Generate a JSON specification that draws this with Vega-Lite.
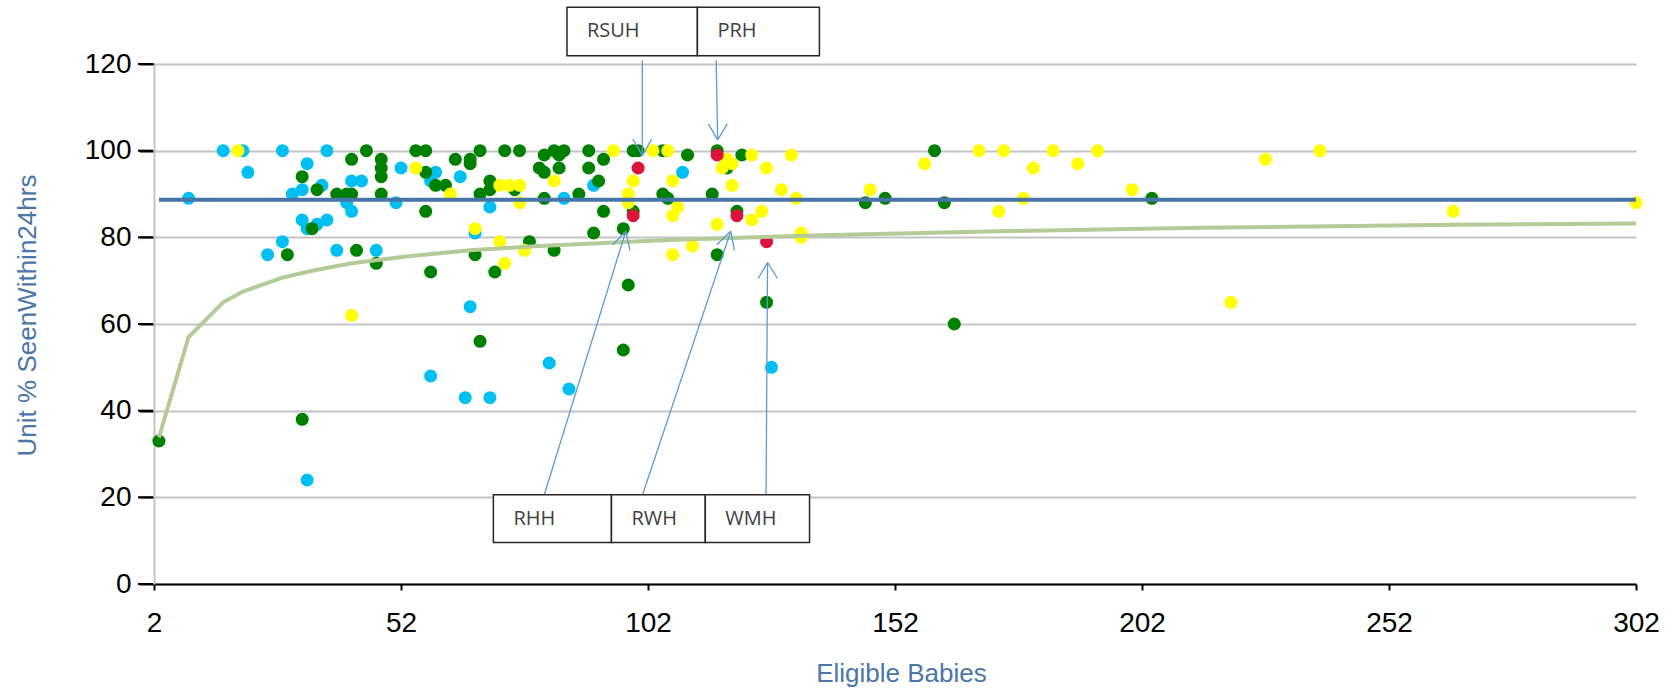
{
  "$schema": "https://vega.github.io/schema/vega-lite/v6.json",
  "width": 1482,
  "height": 520,
  "autosize": {"type": "none"},
  "padding": {"left": 154, "top": 64, "right": 34, "bottom": 106},
  "background": "white",
  "config": {
    "view": {"stroke": null},
    "axis": {
      "labelFont": "Liberation Sans",
      "labelFontSize": 28,
      "labelColor": "#000000",
      "labelFlush": false,
      "labelOverlap": false,
      "titleFont": "Liberation Sans",
      "titleFontSize": 26,
      "titleFontWeight": "normal",
      "titleColor": "#4A76A8"
    },
    "axisX": {
      "grid": false,
      "domainColor": "#000000",
      "domainWidth": 2,
      "ticks": true,
      "tickColor": "#000000",
      "tickWidth": 2,
      "tickSize": 6,
      "labelPadding": 19
    },
    "axisY": {
      "grid": true,
      "gridColor": "#C4C4C4",
      "gridWidth": 2,
      "domainColor": "#C4C4C4",
      "domainWidth": 2,
      "ticks": true,
      "tickColor": "#000000",
      "tickWidth": 2,
      "tickSize": 15,
      "labelPadding": 8
    }
  },
  "datasets": {
    "units": [
      {"eligible": 9, "pct": 89, "rating": "Blue"},
      {"eligible": 16, "pct": 100, "rating": "Blue"},
      {"eligible": 20, "pct": 100, "rating": "Blue"},
      {"eligible": 21, "pct": 95, "rating": "Blue"},
      {"eligible": 28, "pct": 100, "rating": "Blue"},
      {"eligible": 37, "pct": 100, "rating": "Blue"},
      {"eligible": 33, "pct": 97, "rating": "Blue"},
      {"eligible": 36, "pct": 92, "rating": "Blue"},
      {"eligible": 32, "pct": 91, "rating": "Blue"},
      {"eligible": 30, "pct": 90, "rating": "Blue"},
      {"eligible": 41, "pct": 88, "rating": "Blue"},
      {"eligible": 42, "pct": 86, "rating": "Blue"},
      {"eligible": 42, "pct": 93, "rating": "Blue"},
      {"eligible": 44, "pct": 93, "rating": "Blue"},
      {"eligible": 52, "pct": 96, "rating": "Blue"},
      {"eligible": 59, "pct": 95, "rating": "Blue"},
      {"eligible": 58, "pct": 93, "rating": "Blue"},
      {"eligible": 64, "pct": 94, "rating": "Blue"},
      {"eligible": 70, "pct": 87, "rating": "Blue"},
      {"eligible": 51, "pct": 88, "rating": "Blue"},
      {"eligible": 32, "pct": 84, "rating": "Blue"},
      {"eligible": 33, "pct": 82, "rating": "Blue"},
      {"eligible": 35, "pct": 83, "rating": "Blue"},
      {"eligible": 37, "pct": 84, "rating": "Blue"},
      {"eligible": 28, "pct": 79, "rating": "Blue"},
      {"eligible": 25, "pct": 76, "rating": "Blue"},
      {"eligible": 39, "pct": 77, "rating": "Blue"},
      {"eligible": 47, "pct": 77, "rating": "Blue"},
      {"eligible": 67, "pct": 81, "rating": "Blue"},
      {"eligible": 66, "pct": 64, "rating": "Blue"},
      {"eligible": 58, "pct": 48, "rating": "Blue"},
      {"eligible": 33, "pct": 24, "rating": "Blue"},
      {"eligible": 65, "pct": 43, "rating": "Blue"},
      {"eligible": 70, "pct": 43, "rating": "Blue"},
      {"eligible": 82, "pct": 51, "rating": "Blue"},
      {"eligible": 86, "pct": 45, "rating": "Blue"},
      {"eligible": 91, "pct": 92, "rating": "Blue"},
      {"eligible": 85, "pct": 89, "rating": "Blue"},
      {"eligible": 109, "pct": 95, "rating": "Blue"},
      {"eligible": 127, "pct": 50, "rating": "Blue"},
      {"eligible": 3, "pct": 33, "rating": "Green"},
      {"eligible": 32, "pct": 94, "rating": "Green"},
      {"eligible": 35, "pct": 91, "rating": "Green"},
      {"eligible": 39, "pct": 90, "rating": "Green"},
      {"eligible": 41, "pct": 90, "rating": "Green"},
      {"eligible": 42, "pct": 90, "rating": "Green"},
      {"eligible": 42, "pct": 98, "rating": "Green"},
      {"eligible": 45, "pct": 100, "rating": "Green"},
      {"eligible": 48, "pct": 98, "rating": "Green"},
      {"eligible": 48, "pct": 96, "rating": "Green"},
      {"eligible": 48, "pct": 94, "rating": "Green"},
      {"eligible": 48, "pct": 90, "rating": "Green"},
      {"eligible": 55, "pct": 100, "rating": "Green"},
      {"eligible": 57, "pct": 100, "rating": "Green"},
      {"eligible": 57, "pct": 95, "rating": "Green"},
      {"eligible": 59, "pct": 92, "rating": "Green"},
      {"eligible": 61, "pct": 92, "rating": "Green"},
      {"eligible": 63, "pct": 98, "rating": "Green"},
      {"eligible": 66, "pct": 98, "rating": "Green"},
      {"eligible": 66, "pct": 97, "rating": "Green"},
      {"eligible": 68, "pct": 100, "rating": "Green"},
      {"eligible": 70, "pct": 93, "rating": "Green"},
      {"eligible": 70, "pct": 91, "rating": "Green"},
      {"eligible": 68, "pct": 90, "rating": "Green"},
      {"eligible": 73, "pct": 100, "rating": "Green"},
      {"eligible": 76, "pct": 100, "rating": "Green"},
      {"eligible": 75, "pct": 91, "rating": "Green"},
      {"eligible": 57, "pct": 86, "rating": "Green"},
      {"eligible": 34, "pct": 82, "rating": "Green"},
      {"eligible": 29, "pct": 76, "rating": "Green"},
      {"eligible": 43, "pct": 77, "rating": "Green"},
      {"eligible": 47, "pct": 74, "rating": "Green"},
      {"eligible": 58, "pct": 72, "rating": "Green"},
      {"eligible": 67, "pct": 76, "rating": "Green"},
      {"eligible": 71, "pct": 72, "rating": "Green"},
      {"eligible": 78, "pct": 79, "rating": "Green"},
      {"eligible": 68, "pct": 56, "rating": "Green"},
      {"eligible": 32, "pct": 38, "rating": "Green"},
      {"eligible": 98, "pct": 69, "rating": "Green"},
      {"eligible": 97, "pct": 54, "rating": "Green"},
      {"eligible": 83, "pct": 77, "rating": "Green"},
      {"eligible": 80, "pct": 96, "rating": "Green"},
      {"eligible": 81, "pct": 95, "rating": "Green"},
      {"eligible": 81, "pct": 99, "rating": "Green"},
      {"eligible": 83, "pct": 100, "rating": "Green"},
      {"eligible": 84, "pct": 99, "rating": "Green"},
      {"eligible": 85, "pct": 100, "rating": "Green"},
      {"eligible": 84, "pct": 96, "rating": "Green"},
      {"eligible": 90, "pct": 100, "rating": "Green"},
      {"eligible": 93, "pct": 98, "rating": "Green"},
      {"eligible": 90, "pct": 96, "rating": "Green"},
      {"eligible": 92, "pct": 93, "rating": "Green"},
      {"eligible": 99, "pct": 100, "rating": "Green"},
      {"eligible": 100, "pct": 100, "rating": "Green"},
      {"eligible": 105, "pct": 100, "rating": "Green"},
      {"eligible": 110, "pct": 99, "rating": "Green"},
      {"eligible": 99, "pct": 86, "rating": "Green"},
      {"eligible": 93, "pct": 86, "rating": "Green"},
      {"eligible": 91, "pct": 81, "rating": "Green"},
      {"eligible": 97, "pct": 82, "rating": "Green"},
      {"eligible": 81, "pct": 89, "rating": "Green"},
      {"eligible": 88, "pct": 90, "rating": "Green"},
      {"eligible": 105, "pct": 90, "rating": "Green"},
      {"eligible": 106, "pct": 89, "rating": "Green"},
      {"eligible": 115, "pct": 90, "rating": "Green"},
      {"eligible": 116, "pct": 100, "rating": "Green"},
      {"eligible": 118, "pct": 96, "rating": "Green"},
      {"eligible": 121, "pct": 99, "rating": "Green"},
      {"eligible": 120, "pct": 86, "rating": "Green"},
      {"eligible": 116, "pct": 76, "rating": "Green"},
      {"eligible": 126, "pct": 65, "rating": "Green"},
      {"eligible": 146, "pct": 88, "rating": "Green"},
      {"eligible": 150, "pct": 89, "rating": "Green"},
      {"eligible": 160, "pct": 100, "rating": "Green"},
      {"eligible": 162, "pct": 88, "rating": "Green"},
      {"eligible": 164, "pct": 60, "rating": "Green"},
      {"eligible": 204, "pct": 89, "rating": "Green"},
      {"eligible": 19, "pct": 100, "rating": "Yellow"},
      {"eligible": 55, "pct": 96, "rating": "Yellow"},
      {"eligible": 62, "pct": 90, "rating": "Yellow"},
      {"eligible": 72, "pct": 92, "rating": "Yellow"},
      {"eligible": 74, "pct": 92, "rating": "Yellow"},
      {"eligible": 76, "pct": 92, "rating": "Yellow"},
      {"eligible": 76, "pct": 88, "rating": "Yellow"},
      {"eligible": 67, "pct": 82, "rating": "Yellow"},
      {"eligible": 72, "pct": 79, "rating": "Yellow"},
      {"eligible": 73, "pct": 74, "rating": "Yellow"},
      {"eligible": 77, "pct": 77, "rating": "Yellow"},
      {"eligible": 42, "pct": 62, "rating": "Yellow"},
      {"eligible": 83, "pct": 93, "rating": "Yellow"},
      {"eligible": 95, "pct": 100, "rating": "Yellow"},
      {"eligible": 103, "pct": 100, "rating": "Yellow"},
      {"eligible": 106, "pct": 100, "rating": "Yellow"},
      {"eligible": 99, "pct": 93, "rating": "Yellow"},
      {"eligible": 107, "pct": 93, "rating": "Yellow"},
      {"eligible": 98, "pct": 90, "rating": "Yellow"},
      {"eligible": 98, "pct": 88, "rating": "Yellow"},
      {"eligible": 108, "pct": 87, "rating": "Yellow"},
      {"eligible": 107, "pct": 85, "rating": "Yellow"},
      {"eligible": 111, "pct": 78, "rating": "Yellow"},
      {"eligible": 107, "pct": 76, "rating": "Yellow"},
      {"eligible": 117, "pct": 96, "rating": "Yellow"},
      {"eligible": 119, "pct": 97, "rating": "Yellow"},
      {"eligible": 118, "pct": 98, "rating": "Yellow"},
      {"eligible": 123, "pct": 99, "rating": "Yellow"},
      {"eligible": 126, "pct": 96, "rating": "Yellow"},
      {"eligible": 131, "pct": 99, "rating": "Yellow"},
      {"eligible": 119, "pct": 92, "rating": "Yellow"},
      {"eligible": 129, "pct": 91, "rating": "Yellow"},
      {"eligible": 132, "pct": 89, "rating": "Yellow"},
      {"eligible": 125, "pct": 86, "rating": "Yellow"},
      {"eligible": 123, "pct": 84, "rating": "Yellow"},
      {"eligible": 116, "pct": 83, "rating": "Yellow"},
      {"eligible": 133, "pct": 81, "rating": "Yellow"},
      {"eligible": 133, "pct": 80, "rating": "Yellow"},
      {"eligible": 147, "pct": 91, "rating": "Yellow"},
      {"eligible": 158, "pct": 97, "rating": "Yellow"},
      {"eligible": 169, "pct": 100, "rating": "Yellow"},
      {"eligible": 174, "pct": 100, "rating": "Yellow"},
      {"eligible": 173, "pct": 86, "rating": "Yellow"},
      {"eligible": 178, "pct": 89, "rating": "Yellow"},
      {"eligible": 180, "pct": 96, "rating": "Yellow"},
      {"eligible": 184, "pct": 100, "rating": "Yellow"},
      {"eligible": 189, "pct": 97, "rating": "Yellow"},
      {"eligible": 193, "pct": 100, "rating": "Yellow"},
      {"eligible": 200, "pct": 91, "rating": "Yellow"},
      {"eligible": 220, "pct": 65, "rating": "Yellow"},
      {"eligible": 227, "pct": 98, "rating": "Yellow"},
      {"eligible": 238, "pct": 100, "rating": "Yellow"},
      {"eligible": 265, "pct": 86, "rating": "Yellow"},
      {"eligible": 302, "pct": 88, "rating": "Yellow"},
      {"eligible": 100, "pct": 96, "rating": "Red", "unit": "RSUH"},
      {"eligible": 116, "pct": 99, "rating": "Red", "unit": "PRH"},
      {"eligible": 99, "pct": 85, "rating": "Red", "unit": "RHH"},
      {"eligible": 120, "pct": 85, "rating": "Red", "unit": "RWH"},
      {"eligible": 126, "pct": 79, "rating": "Red", "unit": "WMH"}
    ],
    "mean": [
      {"eligible": 3, "pct": 88.7},
      {"eligible": 302, "pct": 88.7}
    ],
    "limit": [
      {"eligible": 3, "pct": 33.8},
      {"eligible": 9, "pct": 57.0},
      {"eligible": 16, "pct": 65.0},
      {"eligible": 20, "pct": 67.5},
      {"eligible": 28, "pct": 70.7},
      {"eligible": 34, "pct": 72.3},
      {"eligible": 42, "pct": 74.0},
      {"eligible": 53, "pct": 75.6},
      {"eligible": 66, "pct": 77.0},
      {"eligible": 80, "pct": 78.0},
      {"eligible": 106, "pct": 79.4},
      {"eligible": 137, "pct": 80.5},
      {"eligible": 173, "pct": 81.4},
      {"eligible": 214, "pct": 82.2},
      {"eligible": 265, "pct": 82.9},
      {"eligible": 302, "pct": 83.2}
    ],
    "yticks": [
      {"pct": 0}, {"pct": 20}, {"pct": 40}, {"pct": 60}, {"pct": 80}, {"pct": 100}, {"pct": 120}
    ],
    "arrows": [
      {"unit": "RSUH", "x1": 100.85, "y1": 120.8, "x2": 100.85, "y2": 98.85},
      {"unit": "RSUH", "x1": 100.85, "y1": 98.85, "x2": 98.9, "y2": 102.7},
      {"unit": "RSUH", "x1": 100.85, "y1": 98.85, "x2": 102.75, "y2": 102.7},
      {"unit": "PRH", "x1": 115.8, "y1": 120.8, "x2": 116.1, "y2": 102.5},
      {"unit": "PRH", "x1": 116.1, "y1": 102.5, "x2": 114.2, "y2": 106.2},
      {"unit": "PRH", "x1": 116.1, "y1": 102.5, "x2": 118.05, "y2": 106.2},
      {"unit": "RHH", "x1": 81.0, "y1": 20.6, "x2": 97.5, "y2": 81.4},
      {"unit": "RHH", "x1": 97.5, "y1": 81.4, "x2": 94.85, "y2": 78.3},
      {"unit": "RHH", "x1": 97.5, "y1": 81.4, "x2": 98.35, "y2": 77.0},
      {"unit": "RWH", "x1": 100.9, "y1": 20.6, "x2": 118.75, "y2": 81.4},
      {"unit": "RWH", "x1": 118.75, "y1": 81.4, "x2": 115.9, "y2": 78.3},
      {"unit": "RWH", "x1": 118.75, "y1": 81.4, "x2": 119.5, "y2": 77.0},
      {"unit": "WMH", "x1": 125.9, "y1": 20.6, "x2": 126.2, "y2": 74.2},
      {"unit": "WMH", "x1": 126.2, "y1": 74.2, "x2": 124.3, "y2": 70.5},
      {"unit": "WMH", "x1": 126.2, "y1": 74.2, "x2": 128.2, "y2": 70.5}
    ],
    "boxes": [
      {"unit": "RSUH", "left": 85.6, "right": 112.0, "bottom": 121.9, "top": 133.1},
      {"unit": "PRH", "left": 112.0, "right": 136.7, "bottom": 121.9, "top": 133.1},
      {"unit": "RHH", "left": 70.7, "right": 94.6, "bottom": 9.6, "top": 20.6},
      {"unit": "RWH", "left": 94.6, "right": 113.6, "bottom": 9.6, "top": 20.6},
      {"unit": "WMH", "left": 113.6, "right": 134.7, "bottom": 9.6, "top": 20.6}
    ]
  },
  "layer": [
    {
      "data": {"name": "units"},
      "mark": {"type": "circle", "size": 170, "opacity": 1},
      "encoding": {
        "x": {
          "field": "eligible", "type": "quantitative",
          "scale": {"domain": [2, 302], "nice": false, "zero": false},
          "axis": {
            "values": [2, 52, 102, 152, 202, 252, 302],
            "title": "Eligible Babies",
            "titleX": 747, "titleY": 89,
            "titleBaseline": "middle", "titleAlign": "center"
          }
        },
        "y": {
          "field": "pct", "type": "quantitative",
          "scale": {"domain": [0, 120], "nice": false, "zero": false},
          "axis": {
            "values": [0, 20, 40, 60, 80, 100, 120],
            "title": "Unit % SeenWithin24hrs",
            "titleX": -127, "titleY": 251,
            "titleBaseline": "middle", "titleAlign": "center", "titleAngle": -90
          }
        },
        "color": {
          "field": "rating", "type": "nominal",
          "scale": {"domain": ["Blue", "Green", "Yellow", "Red"], "range": ["#00BFF3", "#008000", "#FFFF00", "#DC143C"]},
          "legend": null
        }
      }
    },
    {
      "data": {"name": "yticks"},
      "mark": {"type": "rule", "color": "#000000", "strokeWidth": 2, "xOffset": -16, "x2Offset": -1},
      "encoding": {
        "x": {"datum": 2, "type": "quantitative"},
        "x2": {"datum": 2},
        "y": {"field": "pct", "type": "quantitative"}
      }
    },
    {
      "data": {"name": "mean"},
      "mark": {"type": "line", "color": "#4873A8", "strokeWidth": 4},
      "encoding": {
        "x": {"field": "eligible", "type": "quantitative"},
        "y": {"field": "pct", "type": "quantitative"}
      }
    },
    {
      "data": {"name": "limit"},
      "mark": {"type": "line", "color": "#B5CB97", "strokeWidth": 4},
      "encoding": {
        "x": {"field": "eligible", "type": "quantitative"},
        "y": {"field": "pct", "type": "quantitative"}
      }
    },
    {
      "data": {"name": "arrows"},
      "mark": {"type": "rule", "color": "#5B9BD5", "strokeWidth": 1.3},
      "encoding": {
        "x": {"field": "x1", "type": "quantitative"},
        "y": {"field": "y1", "type": "quantitative"},
        "x2": {"field": "x2"},
        "y2": {"field": "y2"}
      }
    },
    {
      "data": {"name": "boxes"},
      "mark": {"type": "rect", "fill": "#FFFFFF", "stroke": "#262626", "strokeWidth": 1.5},
      "encoding": {
        "x": {"field": "left", "type": "quantitative"},
        "x2": {"field": "right"},
        "y": {"field": "bottom", "type": "quantitative"},
        "y2": {"field": "top"}
      }
    },
    {
      "data": {"name": "boxes"},
      "mark": {"type": "text", "align": "left", "baseline": "middle", "dx": 20, "dy": 24, "font": "Open Sans", "fontSize": 20, "color": "#404040"},
      "encoding": {
        "x": {"field": "left", "type": "quantitative"},
        "y": {"field": "top", "type": "quantitative"},
        "text": {"field": "unit"}
      }
    }
  ]
}
